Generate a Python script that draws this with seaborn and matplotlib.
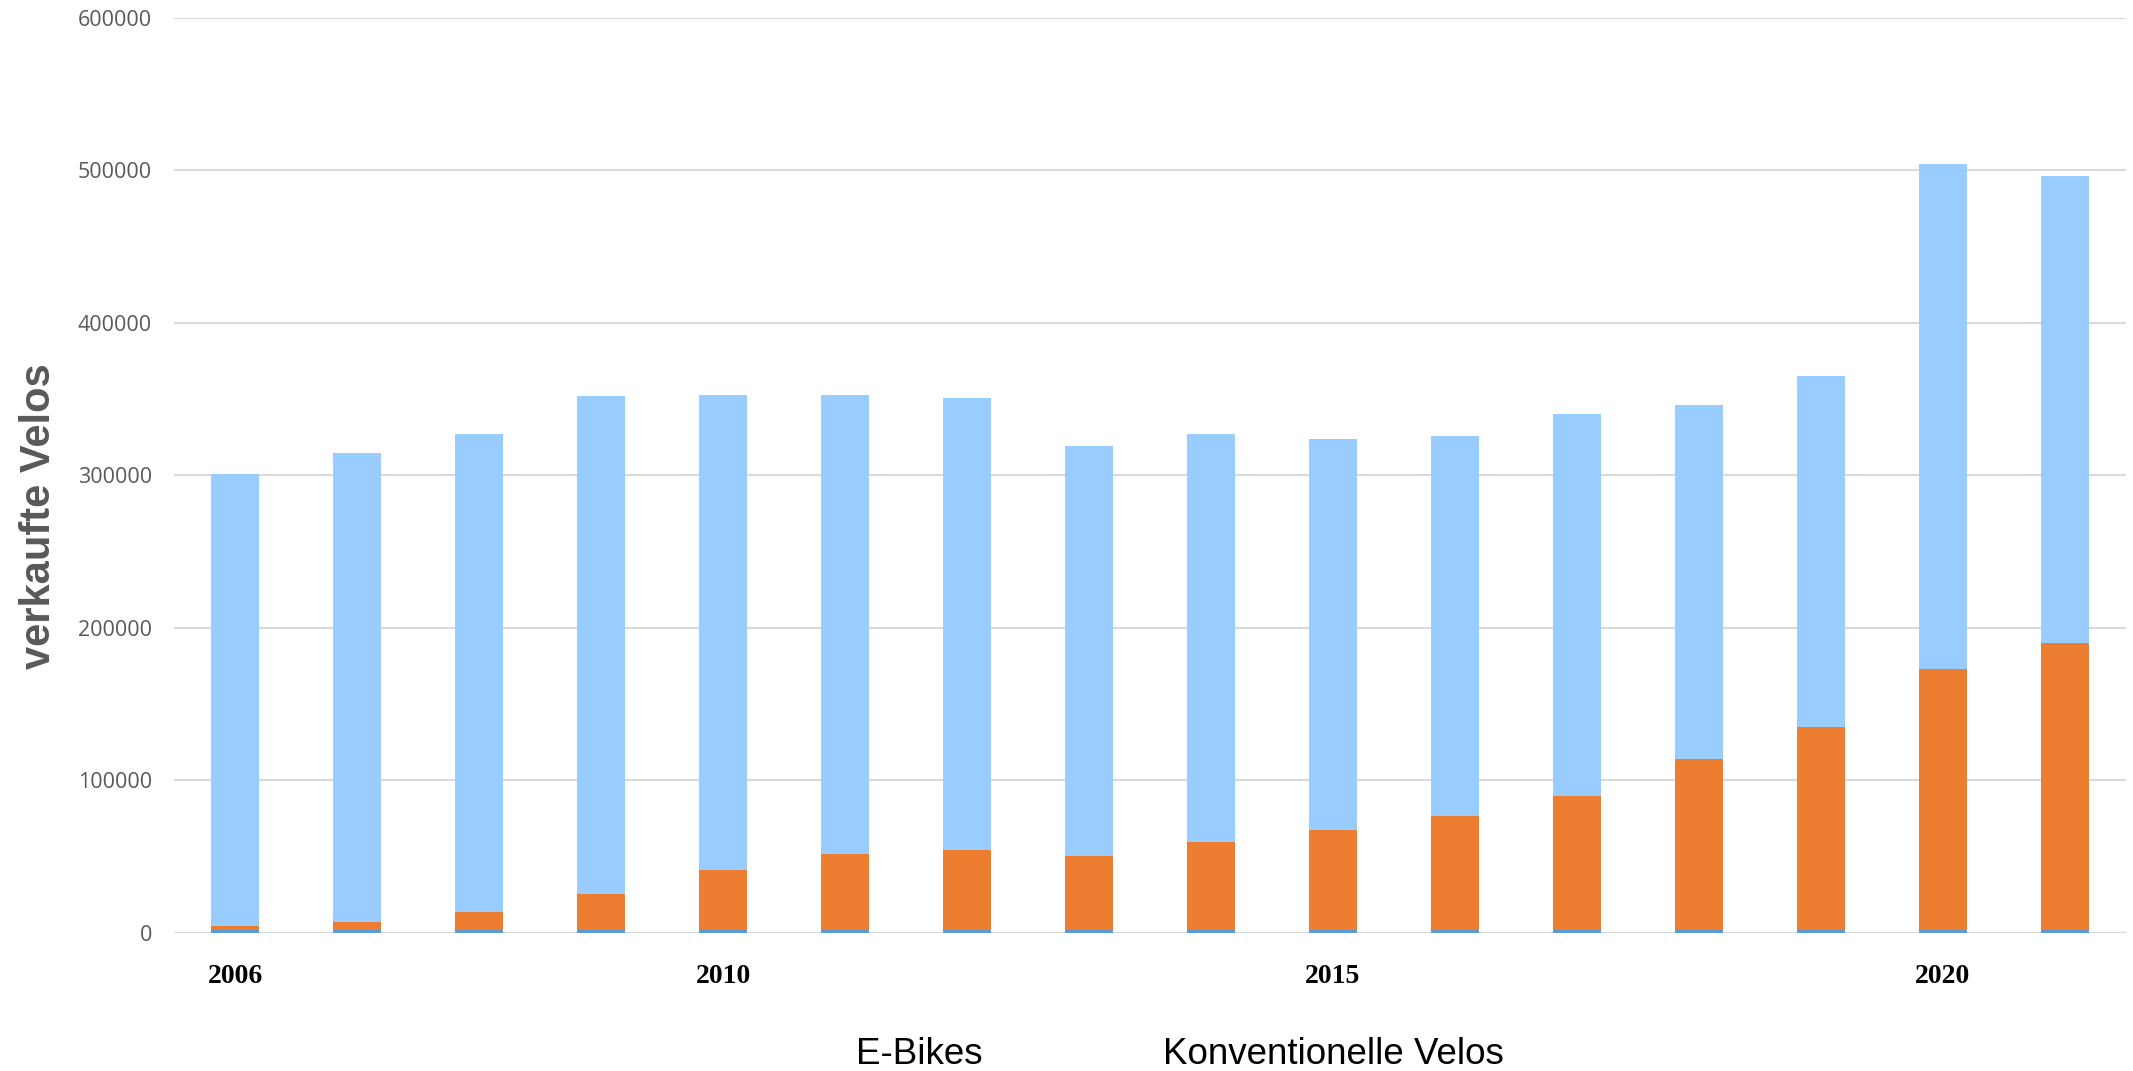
import pandas as pd
import matplotlib.pyplot as plt
import matplotlib.patches as mpatches
import seaborn as sns

# Werte
jahre = ['2006', '2007', '2008', '2009', '2010', '2011', '2012', '2013',
         '2014', '2015', '2016', '2017', '2018', '2019', '2020', '2021']
# schmaler dunkelblauer Streifen am Fuss jeder Säule (Jahreszahl als Serie)
jahr_serie = [2006, 2007, 2008, 2009, 2010, 2011, 2012, 2013,
              2014, 2015, 2016, 2017, 2018, 2019, 2020, 2021]
ebikes = [2600, 5200, 11800, 23600, 39300, 49800, 52400, 48500,
          57900, 65800, 75000, 88100, 111800, 132900, 171000, 188000]
konventionell = [296100, 307800, 313200, 326400, 311700, 301200, 296100, 268500,
                 267100, 256200, 248600, 249900, 232700, 230100, 331400, 306500]

tick_jahre = ['2006', '2010', '2015', '2020']
y_ticks = [0, 100000, 200000, 300000, 400000, 500000, 600000]

df = pd.DataFrame({'Jahr': jahre, 'Streifen': jahr_serie,
                   'E-Bikes': ebikes, 'Konventionelle Velos': konventionell})
# kumulierte Höhen für die gestapelten Säulen
df['unten'] = df['Streifen']
df['mitte'] = df['unten'] + df['E-Bikes']
df['oben'] = df['mitte'] + df['Konventionelle Velos']

sns.set_style('white')
plt.rcParams['font.family'] = ['Liberation Sans', 'DejaVu Sans']

fig = plt.figure(figsize=(21.33, 10.71), dpi=100)
ax = fig.add_axes([0.0816, 0.1289, 0.9151, 0.8543])

for col, farbe in [('oben', '#99ccff'), ('mitte', '#ed7d31'), ('unten', '#5b9bd5')]:
    sns.barplot(data=df, x='Jahr', y=col, color=farbe, saturation=1, width=0.4,
                errorbar=None, linewidth=0, ax=ax)

ax.set_xlim(-0.5, len(jahre) - 0.5)
ax.set_ylim(0, 600000)

# nur ausgewählte Jahre beschriften
ax.set_xticks([jahre.index(j) for j in tick_jahre])
ax.set_xticklabels(tick_jahre, fontfamily='Liberation Serif', fontweight='bold',
                   fontsize=20, color='black')
ax.set_yticks(y_ticks)
ax.set_yticklabels([str(v) for v in y_ticks], fontfamily='Open Sans',
                   fontsize=15.5, color='#595959')
ax.tick_params(axis='x', length=0, pad=22)
ax.tick_params(axis='y', length=0, pad=16)

ax.yaxis.grid(True, color='#d9d9d9', linewidth=1.5)
ax.set_axisbelow(True)
for s in ax.spines.values():
    s.set_visible(False)

ax.set_xlabel('')
ax.set_ylabel('verkaufte Velos', fontsize=30, fontweight='bold', color='#595959')
ax.yaxis.set_label_coords(-0.059, 0.456)

# Legende nur als Text
handles = [mpatches.Patch(facecolor='none', edgecolor='none') for _ in range(2)]
fig.legend(handles, ['E-Bikes', 'Konventionelle Velos'], loc='center',
           bbox_to_anchor=(0.553, 0.015), ncol=2, frameon=False,
           handlelength=0, handletextpad=0, columnspacing=4.9,
           fontsize=26.5, labelcolor='black')

fig.savefig('out.png', dpi=100)
